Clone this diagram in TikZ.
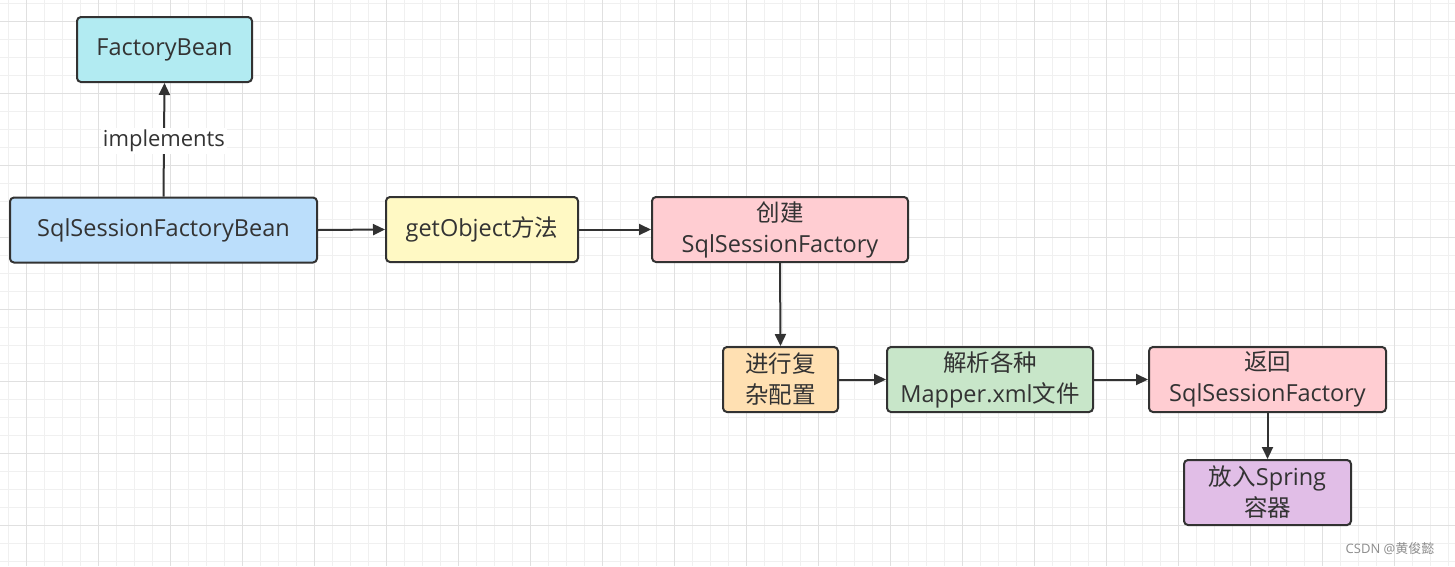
\documentclass[tikz,border=0pt]{standalone}
\usepackage{fontspec}
\setmainfont{Open Sans}
\newfontfamily\cjk{Noto Sans CJK SC}
\usetikzlibrary{arrows.meta}
\definecolor{gridminor}{HTML}{F0F0F0}
\definecolor{gridmajor}{HTML}{E0E0E0}
\definecolor{edgec}{HTML}{323232}
\definecolor{txt}{HTML}{333333}
\definecolor{cCyan}{HTML}{B2EBF2}
\definecolor{cBlue}{HTML}{BBDEFB}
\definecolor{cYellow}{HTML}{FFF9C4}
\definecolor{cPink}{HTML}{FFCDD2}
\definecolor{cOrange}{HTML}{FFE0B2}
\definecolor{cGreen}{HTML}{C8E6C9}
\definecolor{cPurple}{HTML}{E1BEE7}
\tikzset{
  box/.style={draw=edgec, line width=2pt, rounded corners=4pt, minimum height=65pt,
    inner sep=0pt, align=center, text=txt, font=\fontsize{23.5}{31}\selectfont},
  conn/.style={draw=edgec, line width=2pt, -{Triangle[length=12pt,width=11pt]}},
}
\begin{document}
\begin{tikzpicture}[x=1pt,y=-1pt]
\useasboundingbox (0,0) rectangle (1455,566);
\fill[white] (0,0) rectangle (1455,566);
% grid
\foreach \i in {0,...,80} {
  \draw[gridminor, line width=1pt] (8.7+18*\i,0) -- (8.7+18*\i,566);
}
\foreach \j in {0,...,31} {
  \draw[gridminor, line width=1pt] (0,3.5+18*\j) -- (1455,3.5+18*\j);
}
\foreach \i in {0,...,20} {
  \draw[gridmajor, line width=1pt] (26.7+72*\i,0) -- (26.7+72*\i,566);
}
\foreach \j in {0,...,7} {
  \draw[gridmajor, line width=1pt] (0,21.5+72*\j) -- (1455,21.5+72*\j);
}
% nodes
\node[box, fill=cCyan, minimum width=175pt] (fb) at (164.5,49.5) {FactoryBean};
\node[box, fill=cBlue, minimum width=307pt] (sfb) at (163.5,230) {SqlSessionFactoryBean};
\node[box, fill=cYellow, minimum width=192pt] (go) at (482,229.5) {getObject{\cjk 方法}};
\node[box, fill=cPink, minimum width=256pt] (cj) at (780,229.5) {{\cjk 创建}\\SqlSessionFactory};
\node[box, fill=cOrange, minimum width=115pt] (pz) at (780.5,379.5) {\cjk 进行复\\\cjk 杂配置};
\node[box, fill=cGreen, minimum width=206pt] (jx) at (990,379.5) {{\cjk 解析各种}\\Mapper.xml{\cjk 文件}};
\node[box, fill=cPink, minimum width=237pt] (fh) at (1267.5,379.5) {{\cjk 返回}\\SqlSessionFactory};
\node[box, fill=cPurple, minimum width=167pt] (fr) at (1267.5,492.5) {{\cjk 放入}Spring\\{\cjk 容器}};
% connectors
\draw[conn] (sfb.north) -- (fb.south)
  node[pos=0.49, fill=white, text=txt, inner sep=2pt, font=\fontsize{22}{26}\selectfont] (lbl) {implements};
\draw[conn] (sfb.east) -- (go.west);
\draw[conn] (go.east) -- (cj.west);
\draw[conn] (cj.south) -- (pz.north);
\draw[conn] (pz.east) -- (jx.west);
\draw[conn] (jx.east) -- (fh.west);
\draw[conn] (fh.south) -- (fr.south|-fr.north);
% watermark
\node[text=black!45, font=\fontsize{13}{15}\selectfont] (wm) at (1390,549) {CSDN @{\cjk 黄俊懿}};
\end{tikzpicture}
\end{document}
